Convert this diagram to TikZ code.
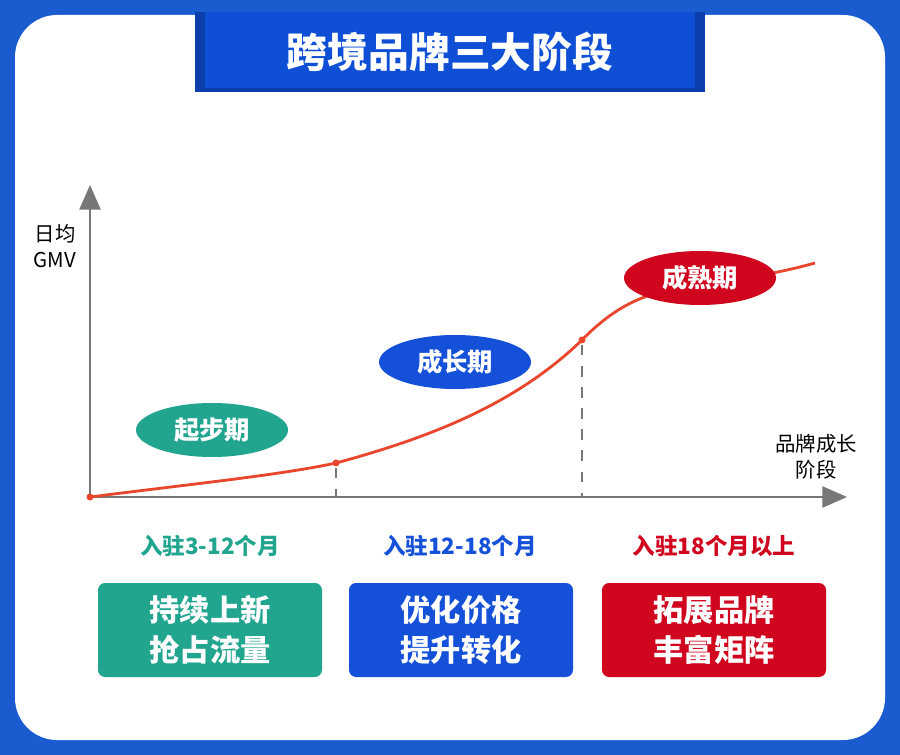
\documentclass[tikz,border=0pt]{standalone}
\usepackage{fontspec}
\setmainfont{Noto Sans CJK SC}
\usetikzlibrary{positioning,shapes.geometric,arrows.meta}
\definecolor{bgblue}{HTML}{1A5CCF}
\definecolor{tblue}{HTML}{0F4FD6}
\definecolor{teal}{HTML}{21A58F}
\definecolor{sblue}{HTML}{1450D8}
\definecolor{sred}{HTML}{D0061F}
\definecolor{curve}{HTML}{E9462D}
\definecolor{axis}{HTML}{777777}
\begin{document}
\begin{tikzpicture}[x=0.01cm, y=-0.01cm, thick,
    stage/.style = {ellipse, fill=#1, text=white, minimum width=152\unitlen, minimum height=54\unitlen, inner sep=0pt, font=\fontsize{7.2}{8}\selectfont\bfseries},
    period/.style = {text=#1, font=\fontsize{6.4}{7}\selectfont\bfseries},
    main/.style = {rectangle, rounded corners=2pt, fill=#1, text=white, minimum width=224\unitlen, minimum height=94\unitlen, align=center, font=\fontsize{8.6}{11.5}\selectfont\bfseries},
    dot/.style = {circle, fill=curve, inner sep=0pt, minimum size=7\unitlen}
    ]
\def\unitlen{*0.01cm}
\useasboundingbox (0,0) rectangle (900,755);
\fill[bgblue] (0,0) rectangle (900,755);
\fill[white, rounded corners=12pt] (15,15) rectangle (885,740);
\fill[tblue!80!black] (195,12) rectangle (705,92);
\fill[tblue] (205,12) rectangle (695,88);
\node[text=white, font=\fontsize{11.6}{13}\selectfont\bfseries] (title) at (450,52) {跨境品牌三大阶段};

% axes
\coordinate (o) at (90,497);
\coordinate (ytop) at (90,185);
\coordinate (xend) at (847,497);
\draw[axis, line width=0.6pt, -{Triangle[length=7pt,width=6pt]}] (o) -- (ytop);
\draw[axis, line width=0.6pt, -{Triangle[length=7pt,width=6pt]}] (o) -- (xend);
\node[font=\fontsize{5.8}{7.5}\selectfont, align=center] (ylab) at (55,246) {日均\\GMV};
\node[font=\fontsize{5.8}{7.5}\selectfont, align=center] (xlab) at (816,457) {品牌成长\\阶段};

% curve
\node[dot] (p0) at (90,497) {};
\node[dot] (p1) at (336,463) {};
\node[dot] (p2) at (582,340) {};
\coordinate (p3) at (815,263);
\coordinate (q1) at (336,497);
\coordinate (q2) at (582,497);
\draw[curve, line width=0.8pt] (p0.center) .. controls (200,483) and (280,475) .. (p1.center)
    .. controls (440,435) and (520,400) .. (p2.center)
    .. controls (650,270) and (700,295) .. (p3);
\draw[axis, dashed, line width=0.6pt] (p1) -- (q1);
\draw[axis, dashed, line width=0.6pt] (p2) -- (q2);

\node[stage=teal] (s1) at (212,430) {起步期};
\node[stage=sblue] (s2) at (455,362) {成长期};
\node[stage=sred] (s3) at (700,278) {成熟期};

\node[period=teal] (t1) at (210,546) {入驻3-12个月};
\node[period=sblue] (t2) at (460,546) {入驻12-18个月};
\node[period=sred] (t3) at (714,546) {入驻18个月以上};

\node[main=teal] (b1) at (210,630) {持续上新\\抢占流量};
\node[main=sblue] (b2) at (461,630) {优化价格\\提升转化};
\node[main=sred] (b3) at (714,630) {拓展品牌\\丰富矩阵};
\end{tikzpicture}
\end{document}
